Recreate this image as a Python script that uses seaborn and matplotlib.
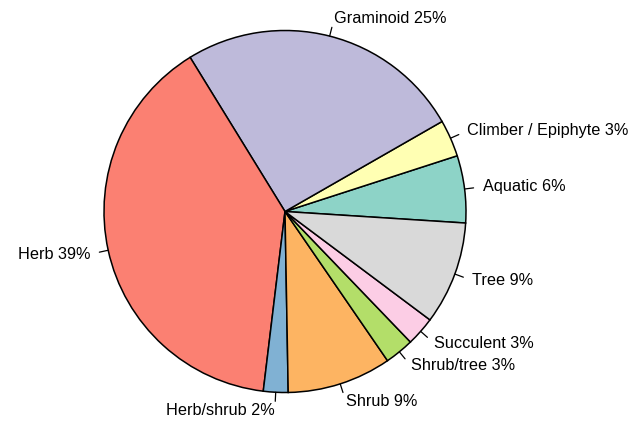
import numpy as np
import matplotlib
matplotlib.use("Agg")
import matplotlib.pyplot as plt
import seaborn as sns

# growth forms, alphabetical as in R's pie()
categories = ["Aquatic", "Climber / Epiphyte", "Graminoid", "Herb", "Herb/shrub",
              "Shrub", "Shrub/tree", "Succulent", "Tree"]
values = [6.0, 3.3, 25.5, 39.3, 2.2, 9.3, 2.6, 2.6, 9.2]
pct_labels = ["6%", "3%", "25%", "39%", "2%", "9%", "3%", "3%", "9%"]

sns.set_style("white")
plt.rcParams["font.family"] = ["Liberation Sans", "DejaVu Sans"]

colors = sns.color_palette("Set3", len(categories))

fig = plt.figure(figsize=(6.43, 4.23), dpi=100)
ax = fig.add_axes([0, 0, 1, 1])

cx, cy, r = 285, 211.5, 181
wedges, _ = ax.pie(values, colors=colors, startangle=-3.66, counterclock=True,
                   center=(cx, cy), radius=r,
                   wedgeprops=dict(edgecolor="black", linewidth=1.1))

# R-style labels: short tick out from the rim, text just beyond
for w, cat, pct in zip(wedges, categories, pct_labels):
    mid = np.deg2rad((w.theta1 + w.theta2) / 2)
    c, s = np.cos(mid), np.sin(mid)
    ax.plot([cx + r * c, cx + 1.05 * r * c], [cy + r * s, cy + 1.05 * r * s],
            color="black", linewidth=0.9)
    ax.text(cx + 1.1 * r * c, cy + 1.1 * r * s, f"{cat} {pct}",
            ha="left" if c > 0 else "right", va="center",
            fontsize=11.7, color="black")

ax.set_xlim(0, 643)
ax.set_ylim(0, 423)
ax.set_aspect("equal")
ax.axis("off")

plt.savefig("out.png", dpi=100)
